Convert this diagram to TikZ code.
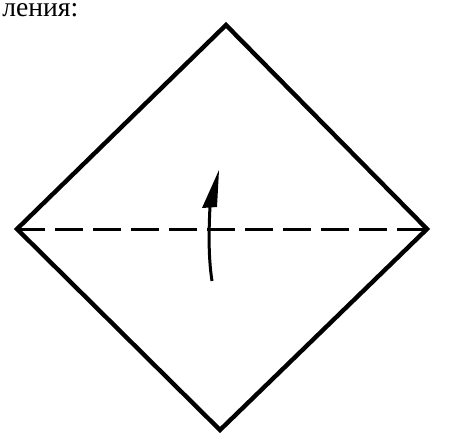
\documentclass[tikz,border=0pt]{standalone}
\usepackage{fontspec}
\setmainfont{Liberation Serif}
\begin{document}
\begin{tikzpicture}[x=0.5pt,y=-0.5pt]
  \useasboundingbox[fill=white] (0,0) rectangle (450,441);

  % Corners of the square sheet
  \coordinate (top) at (226,25);
  \coordinate (right) at (427,229);
  \coordinate (bottom) at (220,430);
  \coordinate (left) at (17,229);

  % Caption fragment
  \node[anchor=base west,inner sep=0pt,text height=6.5pt,text depth=1pt,font=\fontsize{13.8}{15}\selectfont] (caption) at (2,16) {ления:};

  % Outline of the sheet
  \draw[line width=2.2pt,line join=miter] (top) -- (right) -- (bottom) -- (left) -- cycle;

  % Fold line
  \draw[line width=1.5pt,dash pattern=on 14pt off 5pt] (left) -- (right);

  % Fold arrow
  \coordinate (tail) at (212,281);
  \coordinate (neck) at (210,206);
  \coordinate (tip) at (219,170);
  \draw[line width=1.5pt] (tail) .. controls (208,255) and (209,228) .. (neck);
  \fill (202,208) -- (tip) -- (217,207) -- cycle;
\end{tikzpicture}
\end{document}
